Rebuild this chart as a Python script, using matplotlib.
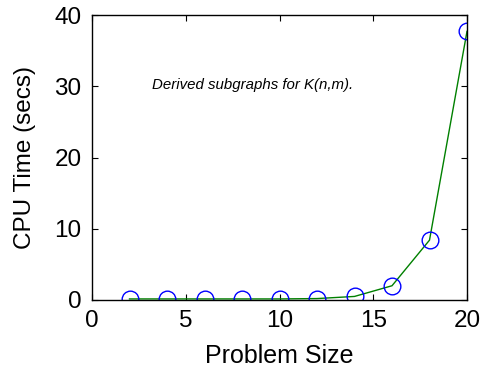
import matplotlib
matplotlib.use("Agg")
import matplotlib.pyplot as plt

problem_size = [2, 4, 6, 8, 10, 12, 14, 16, 18, 20]
cpu_time = [0.15, 0.15, 0.15, 0.15, 0.15, 0.2, 0.5, 2.0, 8.4, 37.7]

plt.rcParams['font.family'] = ['Liberation Sans', 'DejaVu Sans']

fig = plt.figure(figsize=(4.88, 3.74), dpi=100)
ax = fig.add_axes([92 / 488, 1 - 300 / 374, 375 / 488, 285 / 374])

ax.plot(problem_size, cpu_time, color=(0, 0.5, 0), linewidth=1)
ax.plot(problem_size, cpu_time, linestyle='none', marker='o', markersize=12,
        markerfacecolor='none', markeredgecolor='blue', markeredgewidth=1)

ax.set_xlim(0, 20)
ax.set_ylim(0, 40)
ax.set_xticks([0, 5, 10, 15, 20])
ax.set_yticks([0, 10, 20, 30, 40])
ax.tick_params(direction='in', top=True, right=True, labelsize=17.5,
               length=4, pad=7.5)
ax.set_xlabel('Problem Size', fontsize=18, labelpad=8)
ax.set_ylabel('CPU Time (secs)', fontsize=17.5, labelpad=13)
for spine in ax.spines.values():
    spine.set_linewidth(1)

ax.text(0.16, 0.755, 'Derived subgraphs for K(n,m).', transform=ax.transAxes,
        fontsize=10.8, style='italic', va='center', ha='left')

fig.savefig('out.png', dpi=100)
